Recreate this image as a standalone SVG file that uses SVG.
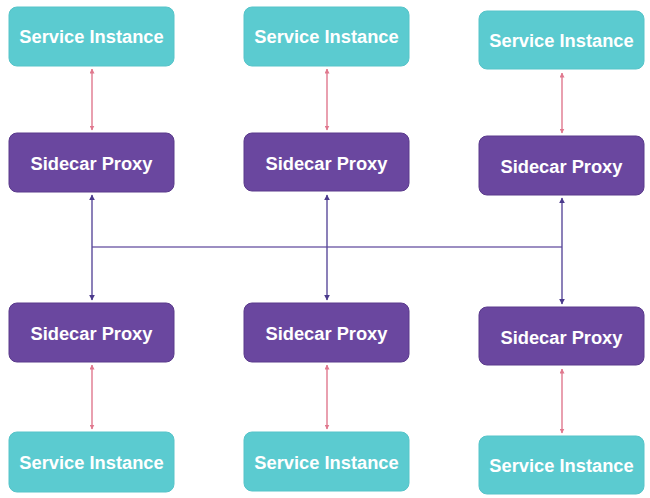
<svg xmlns="http://www.w3.org/2000/svg" width="650" height="498" viewBox="0 0 650 498">
<style>
.svc{fill:#5bcbd0;stroke:#56c4c9;stroke-width:1}
.px{fill:#6a479f;stroke:#5a3a8c;stroke-width:1}
.t{font-family:"Liberation Sans",Arial,sans-serif;font-weight:bold;font-size:18.3px;fill:#ffffff;text-anchor:middle}
.pink{stroke:#e0788e;stroke-width:1.4;fill:none}
.dark{stroke:#5b4a9b;stroke-width:1.4;fill:none}
.hl{stroke:#7b68ae;stroke-width:1.4;fill:none}
</style>
<defs>
<marker id="pe" viewBox="0 0 10 10" refX="9" refY="5" markerWidth="5" markerHeight="5" orient="auto-start-reverse" markerUnits="userSpaceOnUse"><path d="M0,0 L10,5 L0,10 z" fill="#e0788e"/></marker>
<marker id="de" viewBox="0 0 10 10" refX="9" refY="5" markerWidth="6" markerHeight="6" orient="auto-start-reverse" markerUnits="userSpaceOnUse"><path d="M0,0 L10,5 L0,10 z" fill="#4b3a8c"/></marker>
</defs>
<rect width="650" height="498" fill="#ffffff"/>
<g id="connectors">
<line class="pink" x1="92" y1="69" x2="92" y2="130" marker-start="url(#pe)" marker-end="url(#pe)"/>
<line class="pink" x1="327" y1="69" x2="327" y2="130" marker-start="url(#pe)" marker-end="url(#pe)"/>
<line class="pink" x1="562" y1="73" x2="562" y2="133" marker-start="url(#pe)" marker-end="url(#pe)"/>
<line class="hl" x1="92" y1="247" x2="562" y2="247"/>
<line class="dark" x1="92" y1="195" x2="92" y2="300" marker-start="url(#de)" marker-end="url(#de)"/>
<line class="dark" x1="327" y1="195" x2="327" y2="300" marker-start="url(#de)" marker-end="url(#de)"/>
<line class="dark" x1="562" y1="198" x2="562" y2="304" marker-start="url(#de)" marker-end="url(#de)"/>
<line class="pink" x1="92" y1="365" x2="92" y2="429" marker-start="url(#pe)" marker-end="url(#pe)"/>
<line class="pink" x1="327" y1="365" x2="327" y2="429" marker-start="url(#pe)" marker-end="url(#pe)"/>
<line class="pink" x1="562" y1="369" x2="562" y2="433" marker-start="url(#pe)" marker-end="url(#pe)"/>
</g>
<g id="svc-top-1"><rect class="svc" x="9" y="7" width="165" height="59" rx="8"/><text class="t" x="91.5" y="43">Service Instance</text></g>
<g id="svc-top-2"><rect class="svc" x="244" y="7" width="165" height="59" rx="8"/><text class="t" x="326.5" y="43">Service Instance</text></g>
<g id="svc-top-3"><rect class="svc" x="479" y="11" width="165" height="58" rx="8"/><text class="t" x="561.5" y="47">Service Instance</text></g>
<g id="proxy-top-1"><rect class="px" x="9" y="133" width="165" height="59" rx="8"/><text class="t" x="91.5" y="170">Sidecar Proxy</text></g>
<g id="proxy-top-2"><rect class="px" x="244" y="133" width="165" height="58" rx="8"/><text class="t" x="326.5" y="169.5">Sidecar Proxy</text></g>
<g id="proxy-top-3"><rect class="px" x="479" y="136" width="165" height="59" rx="8"/><text class="t" x="561.5" y="173">Sidecar Proxy</text></g>
<g id="proxy-bot-1"><rect class="px" x="9" y="303" width="165" height="59" rx="8"/><text class="t" x="91.5" y="340">Sidecar Proxy</text></g>
<g id="proxy-bot-2"><rect class="px" x="244" y="303" width="165" height="59" rx="8"/><text class="t" x="326.5" y="340">Sidecar Proxy</text></g>
<g id="proxy-bot-3"><rect class="px" x="479" y="307" width="165" height="58" rx="8"/><text class="t" x="561.5" y="343.5">Sidecar Proxy</text></g>
<g id="svc-bot-1"><rect class="svc" x="9" y="432" width="165" height="60" rx="8"/><text class="t" x="91.5" y="469">Service Instance</text></g>
<g id="svc-bot-2"><rect class="svc" x="244" y="432" width="165" height="59" rx="8"/><text class="t" x="326.5" y="468.5">Service Instance</text></g>
<g id="svc-bot-3"><rect class="svc" x="479" y="436" width="165" height="58" rx="8"/><text class="t" x="561.5" y="472">Service Instance</text></g>
</svg>
